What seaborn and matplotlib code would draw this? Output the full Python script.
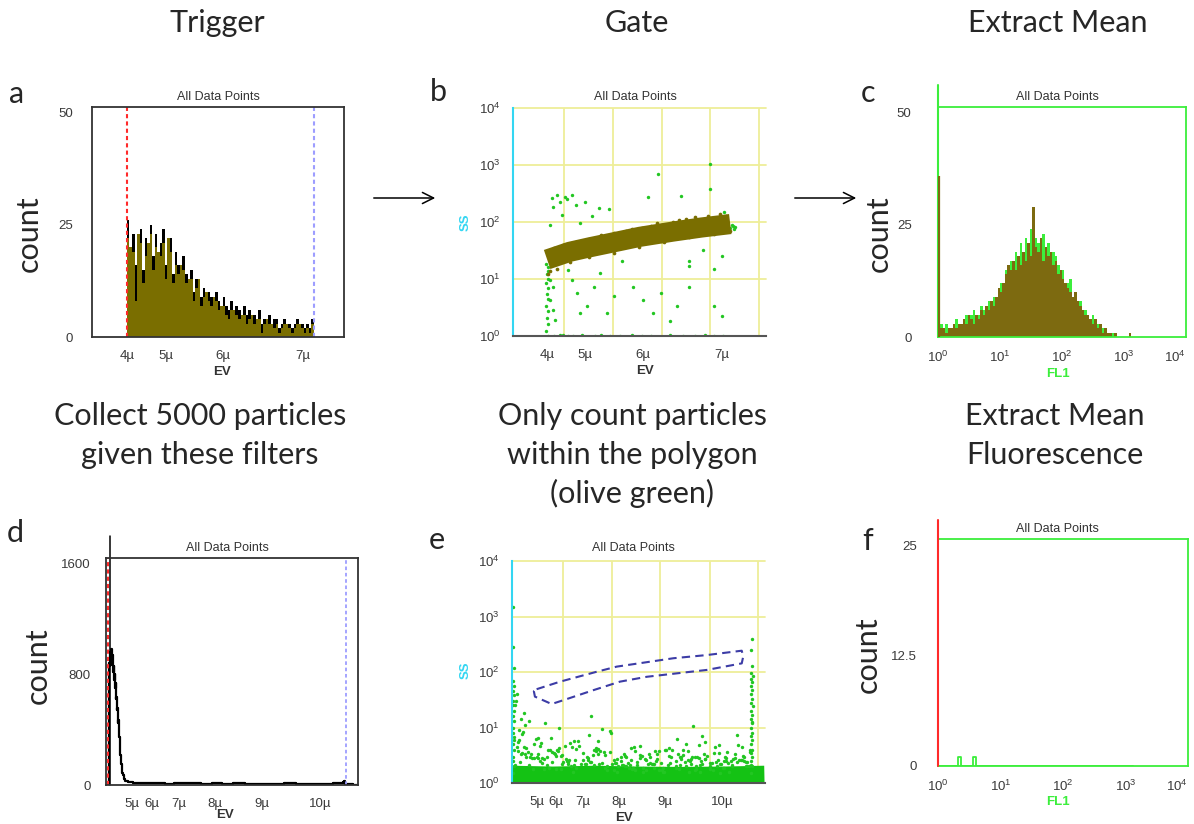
import numpy as np
import pandas as pd
import matplotlib
matplotlib.use("Agg")
import matplotlib.pyplot as plt
import seaborn as sns
from matplotlib.patches import FancyArrowPatch

# ====================== DATA ======================
# EV axis = electronic volume (µm^3); ticks are labelled by diameter (µm)
ev_major_a = [4, 5, 6, 7]
ev_minor_a = [3.5, 4.5, 5.5, 6.5]
ev_major_d = [5, 6, 7, 8, 9, 10]
ev_minor_d = [4.5, 5.5, 6.5, 7.5, 8.5, 9.5, 10.5]

# ---- panel a: EV histogram, black = all events, olive = gated events
a_bin_start, a_bin_width = 64, 4
a_all_counts = [26, 18, 23, 16, 20, 24, 15, 22, 19, 25,
                18, 23, 15, 21, 24, 16, 20, 22, 14, 19,
                16, 13, 18, 14, 11, 15, 10, 13, 12, 9,
                11, 8, 10, 9, 7, 10, 8, 6, 9, 7,
                6, 8, 5, 7, 6, 4, 7, 5, 6, 4,
                5, 3, 6, 3, 4, 3, 5, 2, 4, 4,
                2, 3, 4, 2, 3, 2, 3, 4, 2, 3,
                2, 3, 2, 4]
a_gated_counts = [22, 20, 19, 8, 23, 21, 12, 18, 21, 23,
                  15, 20, 19, 18, 21, 13, 22, 19, 12, 16,
                  14, 16, 15, 12, 13, 13, 8, 11, 13, 7,
                  9, 10, 8, 7, 9, 8, 6, 7, 7, 5,
                  4, 6, 6, 5, 4, 5, 5, 3, 4, 5,
                  3, 4, 4, 1, 3, 4, 3, 3, 2, 3,
                  1, 2, 3, 3, 2, 1, 2, 3, 3, 2,
                  1, 2, 1, 3]
a_gate_lo, a_gate_hi = 64, 360

# ---- panel b: SS vs EV scatter
b_band_ev = [64, 100, 132, 170, 212, 265, 310, 356]
b_band_ss = [22, 30, 36, 44, 55, 68, 80, 92]
b_olive_ev = [75, 90, 110, 130, 150, 170, 190, 200, 215, 230, 240, 255, 265, 275, 285, 300,
              310, 320, 330, 340, 350, 66, 68, 80, 100, 130, 170, 210, 250, 290, 330, 355]
b_olive_ss = [35, 40, 45, 50, 58, 65, 70, 75, 78, 85, 95, 90, 100, 110, 115, 120,
              105, 125, 118, 140, 130, 12, 14, 15, 20, 24, 29, 37, 45, 55, 62, 70]
b_green_ev = [71, 79, 93, 103, 95, 124, 74, 69, 87, 146, 162, 136, 116, 241, 323, 323, 277, 225, 346, 110, 84,
              69, 74, 69, 73, 76, 98, 103, 111, 116, 127, 138, 148, 159, 170, 183, 201, 217, 233, 246, 260,
              271, 290, 290, 313, 330, 343, 330, 343, 290,
              66, 75, 90, 105, 120, 140, 150, 165, 180, 200, 215, 230, 260, 280, 300, 315, 330, 345, 98, 84,
              63, 65, 64, 66, 63, 65, 64, 66, 63, 65, 64, 66, 65, 63,
              355, 360, 362, 358, 350, 364]
b_green_ss = [260, 300, 276, 297, 250, 228, 187, 88, 132, 174, 170, 126, 95, 690, 1040, 373, 290, 270, 152, 200, 220,
              9.6, 7.2, 4.3, 2.9, 1.9, 14.4, 9.6, 5.6, 2.5, 3.3, 7.3, 12.6, 2.5, 5.0, 21, 7.3, 4.3, 2.5, 5.6, 1.8,
              3.3, 17, 21, 32, 15, 25, 3.3, 2.2, 7.3,
              1.02, 1.02, 1.03, 1.02, 1.03, 1.02, 1.03, 1.02, 1.02, 1.03, 1.02, 1.02, 1.03, 1.02, 1.02, 1.03,
              1.02, 1.02, 1.02, 1.03,
              1.2, 1.6, 2.1, 2.7, 3.4, 4.5, 5.5, 7.0, 8.5, 10, 12, 14, 16, 18,
              80, 85, 75, 90, 72, 82]

# ---- panel c: FL1 histogram (log10 bins of 0.04 decade starting at 10^0)
c_bin_width_log = 0.04
c_olive_counts = [3, 2, 2, 1, 2, 2, 3, 2, 3, 3,
                  4, 3, 5, 4, 3, 5, 4, 6, 5, 7,
                  6, 8, 7, 9, 11, 10, 12, 14, 16, 15,
                  17, 15, 18, 16, 19, 17, 21, 18, 29, 20,
                  19, 22, 17, 20, 18, 19, 16, 17, 14, 15,
                  13, 12, 11, 10, 9, 10, 8, 7, 6, 5,
                  5, 4, 3, 4, 2, 3, 1, 2, 1, 1,
                  0, 1, 0, 0, 0, 0, 0, 1]
c_green_counts = [4, 3, 2, 3, 2, 1, 3, 4, 2, 3,
                  3, 5, 4, 5, 6, 4, 5, 7, 6, 5,
                  8, 7, 9, 8, 10, 12, 11, 15, 14, 17,
                  16, 19, 16, 21, 18, 22, 20, 24, 26, 22,
                  21, 19, 23, 18, 21, 17, 19, 18, 16, 13,
                  15, 11, 12, 13, 8, 9, 7, 8, 5, 6,
                  4, 3, 5, 2, 3, 2, 2, 1, 1, 0,
                  1, 0, 0, 0, 0, 0, 0, 0]
c_spike_fl1, c_spike_count = 1.0, 36

# ---- panel d: EV histogram of the unfiltered sample
d_ev = [14, 16, 18, 20, 22, 24, 26, 28, 30, 32, 34, 36, 38, 40, 42, 44, 46, 48, 50, 52,
        54, 56, 58, 60, 62, 64, 66, 68, 70, 72, 74, 76, 78, 80, 84, 88, 92, 96, 100, 110,
        120, 140, 160, 190, 220, 260, 300, 340, 380, 420, 470, 520, 570, 620, 680, 740, 800, 860, 920, 980,
        1040, 1080, 1100, 1110, 1115, 1120, 1130, 1175]
d_count = [0, 0, 40, 880, 930, 860, 960, 900, 985, 870, 940, 850, 900, 820, 860, 760, 800, 700, 740, 620,
           640, 540, 560, 450, 470, 380, 350, 300, 250, 220, 180, 150, 120, 90, 70, 50, 40, 30, 28, 22,
           20, 18, 15, 14, 12, 16, 10, 13, 11, 12, 9, 12, 10, 11, 8, 10, 9, 11, 8, 10,
           9, 12, 15, 22, 30, 10, 5, 0]
d_gate_lo, d_trigger, d_gate_hi = 14, 20.5, 1120

# ---- panel e: SS vs EV scatter of the unfiltered sample
e_base_ev = [8, 200, 400, 600, 800, 1000, 1200]
e_base_ss = [1.45, 1.4, 1.45, 1.4, 1.38, 1.4, 1.45]
e_cloud_ev = [23, 412, 876, 145, 690, 1032, 310, 58, 954, 521,
              780, 190, 1105, 66, 455, 838, 270, 612, 990, 35,
              367, 725, 128, 1070, 543, 889, 214, 640, 47, 930,
              1120, 298, 590, 81, 760, 1008, 432, 172, 815, 505,
              15, 660, 965, 237, 389, 1088, 112, 702, 851, 476,
              560, 29, 918, 341, 1140, 625, 198, 787, 94, 1045,
              403, 742, 156, 985, 268, 873, 534, 61, 1012, 318,
              897, 221, 677, 1130, 447, 39, 808, 583, 130, 1060,
              256, 945, 372, 715, 20, 1099, 498, 829, 183, 611,
              1025, 107, 569, 862, 294, 751, 42, 1115, 425, 676,
              331, 906, 75, 638, 1052, 205, 794, 468, 975, 139,
              548, 1137, 282, 719, 52, 870, 396, 1003, 163, 600,
              941, 243, 781, 118, 489, 1076, 355, 654, 27, 842,
              176, 627, 1019, 414, 747, 88, 958, 305, 1093, 526,
              688, 31, 442, 1126, 229, 575, 917, 150, 803, 380]
e_cloud_ss = [2.1, 3.4, 1.8, 5.2, 2.7, 1.6, 4.1, 8.3, 2.3, 3.0,
              1.9, 6.4, 2.5, 11.0, 1.7, 3.8, 2.2, 4.6, 1.5, 5.5,
              2.8, 1.6, 3.3, 7.2, 2.0, 4.9, 1.8, 2.6, 14.0, 3.1,
              2.4, 5.8, 1.7, 3.6, 2.9, 1.9, 9.5, 2.1, 3.9, 1.6,
              6.8, 2.3, 4.4, 1.8, 3.2, 2.6, 5.1, 1.7, 2.2, 7.9,
              1.9, 4.5, 2.7, 3.5, 12.5, 1.6, 2.4, 6.1, 3.0, 2.0,
              3.7, 2.1, 1.8, 4.8, 2.5, 1.7, 3.3, 18.0, 2.9, 5.6,
              1.6, 3.9, 2.2, 4.0, 1.9, 9.0, 2.7, 1.8, 6.6, 3.4,
              4.7, 2.0, 7.4, 1.7, 25.0, 3.1, 2.3, 5.0, 1.9, 2.8,
              3.6, 1.8, 2.6, 10.5, 1.6, 4.2, 6.0, 2.4, 3.8, 1.9,
              2.2, 6.9, 4.3, 1.7, 2.7, 3.5, 1.8, 8.6, 2.0, 4.6,
              3.0, 2.1, 5.3, 1.6, 7.7, 2.9, 3.9, 1.9, 12.0, 2.4,
              1.8, 3.2, 2.5, 6.3, 1.7, 4.9, 2.2, 3.4, 30.0, 1.6,
              4.0, 1.9, 2.8, 5.7, 3.1, 13.0, 1.7, 2.6, 4.4, 2.1,
              2.5, 40.0, 3.6, 2.0, 9.8, 1.8, 5.4, 2.3, 3.0, 16.0]
e_cloud2_ev = [45, 310, 620, 905, 150, 470, 780, 1080, 230, 555,
               860, 95, 395, 700, 1010, 180, 505, 815, 1120, 65,
               340, 650, 960, 270, 580, 890, 125, 430, 735, 1045,
               210, 520, 830, 35, 360, 670, 980, 290, 600, 915,
               160, 455, 765, 1070, 245, 540, 850, 110, 415, 720,
               1030, 195, 490, 800, 1105, 75, 380, 690, 995, 260,
               570, 875, 140, 445, 755, 1060, 225, 530, 840, 55,
               350, 660, 970, 285, 590, 900, 170, 480, 790, 1095,
               85, 325, 635, 945, 215, 510, 825, 1130, 130, 420,
               730, 1040, 300, 610, 920, 185, 495, 805, 1115, 70,
               365, 675, 985, 250, 565, 880, 100, 405, 710, 1020,
               240, 545, 855, 50, 375, 685, 990, 275, 585, 895]
e_cloud2_ss = [2.4, 1.9, 3.1, 2.2, 2.8, 3.6, 2.0, 2.6, 4.2, 2.3,
               2.9, 3.3, 2.1, 3.8, 2.5, 1.9, 2.7, 3.2, 2.0, 4.5,
               2.6, 2.2, 3.5, 2.4, 1.9, 2.8, 3.0, 2.3, 4.0, 2.1,
               3.4, 2.5, 2.0, 3.7, 2.9, 2.2, 2.6, 4.4, 2.1, 3.3,
               2.7, 2.0, 3.9, 2.4, 2.2, 3.1, 2.5, 2.8, 4.1, 1.9,
               2.3, 3.6, 2.6, 2.1, 3.0, 2.9, 2.4, 3.4, 2.2, 2.7,
               4.3, 2.0, 2.5, 3.2, 2.3, 2.8, 3.7, 2.1, 2.6, 3.5,
               2.2, 3.0, 2.4, 2.0, 3.8, 2.5, 2.9, 2.2, 3.3, 2.6,
               2.1, 4.6, 2.7, 2.3, 3.1, 2.0, 2.4, 3.6, 2.8, 2.2,
               3.9, 2.5, 2.1, 3.2, 2.7, 4.0, 2.3, 2.9, 2.0, 3.4,
               2.6, 2.2, 3.5, 2.4, 2.1, 3.0, 2.8, 4.2, 2.3, 2.5,
               3.1, 2.0, 2.7, 3.3, 2.4, 3.7, 2.2, 2.6, 4.4, 2.1]
e_left_ev = [12, 14, 11, 13, 15, 12, 14, 13, 11, 15, 12, 14, 13, 12, 16, 13, 14, 12, 15, 13, 12]
e_left_ss = [1.5, 2, 2.5, 3, 4, 5, 6, 8, 10, 13, 16, 20, 25, 30, 38, 45, 55, 70, 120, 280, 1500]
e_right_ev = [1135, 1140, 1138, 1142, 1136, 1141, 1139, 1143, 1137, 1140, 1138, 1142, 1136, 1141,
              1139, 1144, 1137, 1140, 1138, 1142, 1135, 1141, 1139, 1145, 1136, 1140, 1138, 1143]
e_right_ss = [1.5, 2, 2.5, 3, 3.5, 4, 5, 6, 7, 8, 10, 12, 14, 17,
              20, 24, 28, 33, 40, 48, 55, 65, 75, 85, 95, 130, 250, 400]
e_gate_ev = [123, 234, 407, 502, 770, 928, 1093, 1100, 1093, 928, 644, 517, 391, 249, 194, 115, 110, 123]
e_gate_ss = [49, 67, 101, 125, 177, 202, 242, 190, 143, 109, 82, 67, 47, 31, 26.5, 36, 45, 49]

# ---- panel f: FL1 histogram of the unfiltered sample
f_fl1 = [2.1, 3.7]
f_count = [1, 1]

# ============================ STYLE ============================
sns.set_theme(style="white")
plt.rcParams["font.family"] = ["Liberation Sans", "DejaVu Sans"]
plt.rcParams["mathtext.fontset"] = "custom"
plt.rcParams["mathtext.rm"] = "Liberation Sans"
plt.rcParams["mathtext.it"] = "Liberation Sans:italic"
plt.rcParams["mathtext.bf"] = "Liberation Sans:bold"

BIG = ["Lato", "DejaVu Sans"]
BIGSIZE = 22
TICKSIZE = 9.5
OLIVE = "#7a6e00"
OLIVE_C = "#7d6a10"
GREEN = "#3cee3c"
DOTGREEN = "#22c622"
CYAN = "#33d6f2"
YELLOW = "#eeee99"
RED = "#ff2a2a"
BLUE = "#9d9dff"
GATE = "#3c3ca6"
DARK = "#333333"
LABEL = "#3a3a3a"

W, H = 1194, 824
fig = plt.figure(figsize=(W / 100, H / 100), dpi=100)


def px_rect(x0, y0, x1, y1):
    return [x0 / W, 1 - y1 / H, (x1 - x0) / W, (y1 - y0) / H]


def ftext(x, y, s, **kw):
    fig.text(x / W, 1 - y / H, s, **kw)


def vol(d):
    return d ** 3


def style_axis(ax, tick_color, ylen=7, ypad=3):
    ax.tick_params(axis="both", which="both", direction="out", colors=tick_color,
                   labelcolor=LABEL, labelsize=TICKSIZE, width=1)
    ax.tick_params(axis="x", which="major", length=7.5, pad=1.5)
    ax.tick_params(axis="x", which="minor", length=5.5)
    ax.tick_params(axis="y", which="both", length=ylen, pad=ypad)
    ax.set_xlabel("")
    ax.set_ylabel("")
    ax.set_facecolor("white")


def ev_ticks(ax, major, minor):
    ax.set_xticks([vol(d) for d in major], labels=[f"{d}µ" for d in major])
    ax.set_xticks([vol(d) for d in minor], minor=True)


def log_ticks(ax, axis="x"):
    dec = [1, 10, 100, 1000, 10000]
    labels = [rf"$10^{{{k}}}$" for k in range(5)]
    minors = [m * d for d in dec[:-1] for m in range(2, 10)]
    if axis == "x":
        ax.set_xticks(dec, labels=labels)
        ax.set_xticks(minors, minor=True)
        ax.xaxis.set_minor_formatter(plt.NullFormatter())
        ax.get_xticklabels()[-1].set_horizontalalignment("right")
    else:
        ax.set_yticks(dec, labels=labels)
        ax.set_yticks(minors, minor=True)
        ax.yaxis.set_minor_formatter(plt.NullFormatter())


def frame(ax, color, lw=1.3):
    for s in ax.spines.values():
        s.set_visible(True)
        s.set_color(color)
        s.set_linewidth(lw)


def scatter_axes_spines(ax):
    for s in ["top", "right"]:
        ax.spines[s].set_visible(False)
    ax.spines["left"].set_color(CYAN)
    ax.spines["left"].set_linewidth(1.5)
    ax.spines["bottom"].set_color("#555555")
    ax.spines["bottom"].set_linewidth(1.5)
    ax.tick_params(axis="x", which="both", colors="#555555", labelcolor=LABEL)


# ============================ PANEL a ============================
a_edges = (a_bin_start + a_bin_width * np.arange(len(a_all_counts) + 1)).tolist()
a_df = pd.DataFrame({"ev": np.array(a_edges[:-1]) + a_bin_width / 2,
                     "all": a_all_counts, "gated": a_gated_counts})
axa = fig.add_axes(px_rect(92, 107, 344, 337))
sns.histplot(data=a_df, x="ev", weights="all", bins=a_edges, element="step", fill=True,
             color="black", alpha=1, linewidth=0, ax=axa)
sns.histplot(data=a_df, x="ev", weights="gated", bins=a_edges, element="step", fill=True,
             color=OLIVE, alpha=1, linewidth=0, ax=axa)
axa.axvline(a_gate_lo, color=RED, ls=(0, (2, 1.5)), lw=1.5)
axa.axvline(a_gate_hi, color=BLUE, ls=(0, (2, 1.5)), lw=1.5)
axa.set_xlim(8.6, 408)
axa.set_ylim(0, 51.3)
ev_ticks(axa, ev_major_a, ev_minor_a)
axa.set_yticks([0, 12.5, 25, 37.5, 50], labels=["0", "", "25", "", "50"])
style_axis(axa, DARK, ylen=7.5, ypad=6)
frame(axa, DARK)

# ============================ PANEL b ============================
axb = fig.add_axes(px_rect(513, 108, 766, 336))
axb.set_yscale("log")
b_xlim = (9.6, 413)
for yv in [10, 100, 1000, 10000]:
    axb.axhline(yv, color=YELLOW, lw=1.3, zorder=0, clip_on=False)
for fr in [0.2016, 0.395, 0.589, 0.779, 0.972]:
    axb.axvline(b_xlim[0] + fr * (b_xlim[1] - b_xlim[0]), color=YELLOW, lw=1.3, zorder=0)
sns.scatterplot(x=b_green_ev, y=b_green_ss, color=DOTGREEN, s=6, marker="o", linewidth=0,
                legend=False, ax=axb, zorder=2)
sns.lineplot(x=b_band_ev, y=b_band_ss, color=OLIVE, lw=14.5, estimator=None, sort=False,
             solid_capstyle="butt", legend=False, ax=axb, zorder=3)
sns.scatterplot(x=b_olive_ev, y=b_olive_ss, color=OLIVE, s=7, marker="o", linewidth=0,
                legend=False, ax=axb, zorder=3)
axb.set_xlim(*b_xlim)
axb.set_ylim(1, 10000)
ev_ticks(axb, ev_major_a, ev_minor_a)
log_ticks(axb, "y")
style_axis(axb, CYAN, ylen=6, ypad=3)
scatter_axes_spines(axb)

# ============================ PANEL c ============================
c_nbins = len(c_olive_counts)
c_df = pd.DataFrame({"fl1": 10 ** (c_bin_width_log / 2 + c_bin_width_log * np.arange(c_nbins)),
                     "olive": c_olive_counts, "green": c_green_counts})
c_range = (0.0, c_bin_width_log * c_nbins)
axc = fig.add_axes(px_rect(938, 107, 1186, 337))
sns.histplot(data=c_df, x="fl1", weights="green", log_scale=True, binwidth=c_bin_width_log,
             binrange=c_range, element="step", fill=True, color=GREEN, alpha=1, linewidth=0, ax=axc)
sns.histplot(data=c_df, x="fl1", weights="olive", log_scale=True, binwidth=c_bin_width_log,
             binrange=c_range, element="step", fill=True, color=OLIVE_C, alpha=1, linewidth=0, ax=axc)
axc.plot([1, 1], [0, 1.096], transform=axc.get_xaxis_transform(), color=GREEN, lw=1.5,
         clip_on=False)
axc.vlines(c_spike_fl1 * 1.03, 0, c_spike_count, color=OLIVE_C, lw=1.6, zorder=4)
axc.set_xlim(1, 10000)
axc.set_ylim(0, 51.3)
log_ticks(axc, "x")
axc.set_yticks([0, 12.5, 25, 37.5, 50], labels=["0", "", "25", "", "50"])
style_axis(axc, GREEN, ylen=11, ypad=8)
frame(axc, GREEN)

# ============================ PANEL d ============================
axd = fig.add_axes(px_rect(106, 558, 358, 785))
sns.lineplot(x=d_ev, y=d_count, color="black", lw=1.6, drawstyle="steps-mid", estimator=None,
             sort=False, legend=False, ax=axd)
axd.axvline(d_gate_lo, color=RED, ls=(0, (2, 1.5)), lw=1.5)
axd.axvline(d_gate_hi, color=BLUE, ls=(0, (2, 1.5)), lw=1.3)
axd.plot([d_trigger, d_trigger], [0, 1.095], transform=axd.get_xaxis_transform(), color="black",
         lw=1.1, clip_on=False)
axd.set_xlim(4.2, 1176)
axd.set_ylim(0, 1643)
ev_ticks(axd, ev_major_d, ev_minor_d)
axd.set_yticks([0, 400, 800, 1200, 1600], labels=["0", "", "800", "", "1600"])
style_axis(axd, DARK, ylen=9, ypad=2)
frame(axd, DARK)

# ============================ PANEL e ============================
axe = fig.add_axes(px_rect(512, 561, 765, 783))
axe.set_yscale("log")
e_xlim = (6.6, 1203)
for yv in [10, 100, 1000, 10000]:
    axe.axhline(yv, color=YELLOW, lw=1.3, zorder=0, clip_on=False)
for fr in [0.202, 0.395, 0.585, 0.783, 0.972]:
    axe.axvline(e_xlim[0] + fr * (e_xlim[1] - e_xlim[0]), color=YELLOW, lw=1.3, zorder=0)
sns.lineplot(x=e_base_ev, y=e_base_ss, color="#14c214", lw=12, estimator=None, sort=False,
             solid_capstyle="butt", legend=False, ax=axe, zorder=2)
for xs, ys in [(e_cloud_ev, e_cloud_ss), (e_cloud2_ev, e_cloud2_ss),
               (e_left_ev, e_left_ss), (e_right_ev, e_right_ss)]:
    sns.scatterplot(x=xs, y=ys, color=DOTGREEN, s=6, marker="o", linewidth=0,
                    legend=False, ax=axe, zorder=2)
sns.lineplot(x=e_gate_ev, y=e_gate_ss, color=GATE, lw=1.5, estimator=None, sort=False,
             legend=False, ax=axe, zorder=4, linestyle=(0, (4, 2.5)))
axe.set_xlim(*e_xlim)
axe.set_ylim(1, 10000)
ev_ticks(axe, ev_major_d, ev_minor_d)
log_ticks(axe, "y")
style_axis(axe, CYAN, ylen=6, ypad=3)
scatter_axes_spines(axe)

# ============================ PANEL f ============================
f_df = pd.DataFrame({"fl1": f_fl1, "count": f_count})
axf = fig.add_axes(px_rect(938, 539, 1188, 766))
sns.histplot(data=f_df, x="fl1", weights="count", log_scale=True, binwidth=c_bin_width_log,
             binrange=c_range, element="step", fill=False, color=GREEN, linewidth=1.3, ax=axf)
axf.plot([1, 1], [0, 1.084], transform=axf.get_xaxis_transform(), color=RED, lw=1.5,
         clip_on=False, zorder=5)
axf.set_xlim(1, 10000)
axf.set_ylim(0, 25.7)
log_ticks(axf, "x")
axf.set_yticks([0, 6.25, 12.5, 18.75, 25], labels=["0", "", "12.5", "", "25"])
style_axis(axf, GREEN, ylen=11, ypad=4)
frame(axf, GREEN)

# ============================ TEXT ============================
for (x, y) in [(218, 97), (635, 97), (1057, 97), (227, 548), (633, 548), (1057, 529)]:
    ftext(x, y, "All Data Points", ha="center", va="center", fontsize=9, color=DARK)

for (x, y) in [(222, 372), (645, 371), (225, 815), (624, 818)]:
    ftext(x, y, "EV", ha="center", va="center", fontsize=9.5, fontweight="bold", color=DARK)
for (x, y) in [(1058, 374), (1058, 802)]:
    ftext(x, y, "FL1", ha="center", va="center", fontsize=9.5, fontweight="bold", color=GREEN)
for (x, y) in [(466, 222), (466, 670)]:
    ftext(x, y, "SS", ha="center", va="center", fontsize=9.5, fontweight="bold", color=CYAN,
          rotation=90)

for (x, y) in [(29, 234), (879, 234), (38, 666), (868, 655)]:
    ftext(x, y, "count", ha="center", va="center", rotation=90, fontsize=BIGSIZE, family=BIG)

for (x, y, s) in [(17, 94, "a"), (438, 92, "b"), (868, 93, "c"),
                  (15, 533, "d"), (437, 540, "e"), (868, 541, "f")]:
    ftext(x, y, s, ha="center", va="center", fontsize=BIGSIZE, family=BIG)

for (x, s) in [(217, "Trigger"), (637, "Gate"), (1058, "Extract Mean")]:
    ftext(x, 32, s, ha="center", va="baseline", fontsize=BIGSIZE, family=BIG)

lines_mid = [(200, ["Collect 5000 particles", "given these filters"]),
             (632, ["Only count particles", "within the polygon", "(olive green)"]),
             (1055, ["Extract Mean", "Fluorescence"])]
for x, lines in lines_mid:
    for i, s in enumerate(lines):
        ftext(x, 425 + 39 * i, s, ha="center", va="baseline", fontsize=BIGSIZE, family=BIG)

for (x0, x1) in [(371, 438), (792, 859)]:
    fig.add_artist(FancyArrowPatch((x0 / W, 1 - 198 / H), (x1 / W, 1 - 198 / H),
                                   transform=fig.transFigure, arrowstyle="->",
                                   mutation_scale=20, lw=1.1, color="black"))

fig.savefig("out.png", dpi=100)
